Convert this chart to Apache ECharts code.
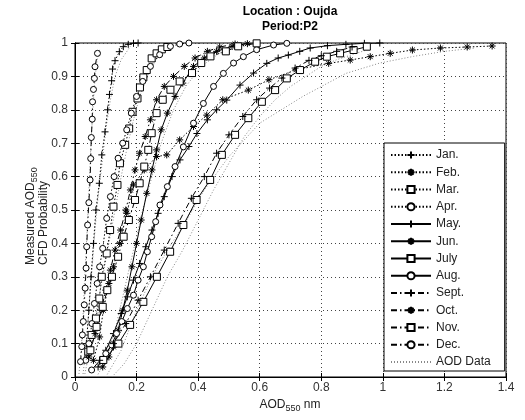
<!DOCTYPE html>
<html>
<head>
<meta charset="utf-8">
<script src="https://cdn.jsdelivr.net/npm/echarts@6/dist/echarts.min.js"></script>
<style>html,body{margin:0;padding:0;background:#fff}#c{width:525px;height:420px}</style>
</head>
<body>
<div id="c"></div>
<script>
// ---- tick labels ----
var xTicks = [0, 0.2, 0.4, 0.6, 0.8, 1, 1.2, 1.4];
var yTicks = [0, 0.1, 0.2, 0.3, 0.4, 0.5, 0.6, 0.7, 0.8, 0.9, 1];

// ---- fitted CDF curves (x = AOD550, p = probability) ----
var janX = [0.030,0.037,0.045,0.052,0.060,0.068,0.079,0.087,0.0975,0.106,0.112,0.119,0.122,0.130,0.144,0.157,0.173,0.190,0.205];
var janP = [0.05,0.10,0.20,0.30,0.40,0.50,0.58,0.665,0.734,0.80,0.846,0.887,0.922,0.947,0.974,0.989,0.996,0.999,1.0];
var febX = [0.06,0.08,0.092,0.11,0.125,0.145,0.168,0.19,0.225,0.265,0.298,0.34,0.385,0.428,0.48,0.563,0.63,0.72,0.824,0.894,0.959,1.024,1.096,1.187,1.274,1.355];
var febP = [0.05,0.12,0.20,0.28,0.33,0.40,0.49,0.575,0.62,0.66,0.665,0.71,0.75,0.784,0.83,0.859,0.89,0.92,0.939,0.949,0.959,0.969,0.979,0.985,0.988,0.991];
var marX = [0.043,0.054,0.068,0.079,0.087,0.103,0.114,0.125,0.138,0.146,0.163,0.176,0.187,0.203,0.211,0.222,0.233,0.249,0.265,0.282,0.30];
var marP = [0.076,0.126,0.175,0.235,0.30,0.37,0.44,0.51,0.575,0.64,0.695,0.744,0.794,0.834,0.867,0.897,0.919,0.954,0.969,0.981,0.988];
var aprX = [0.035,0.045,0.055,0.063,0.072,0.080,0.090,0.103,0.115,0.127,0.140,0.155,0.168,0.183,0.200,0.220,0.245,0.275,0.31,0.34,0.37];
var aprP = [0.05,0.10,0.16,0.22,0.28,0.33,0.385,0.475,0.54,0.60,0.655,0.70,0.74,0.79,0.84,0.885,0.93,0.965,0.99,0.997,1.0];
var mayX = [0.075,0.10,0.125,0.15,0.17,0.19,0.21,0.23,0.25,0.27,0.29,0.315,0.341,0.37,0.396,0.43,0.46,0.493,0.536,0.58,0.623,0.66,0.693,0.73,0.764,0.82,0.88,0.94,0.99];
var mayP = [0.03,0.08,0.13,0.19,0.24,0.29,0.34,0.39,0.44,0.49,0.54,0.60,0.65,0.69,0.729,0.77,0.80,0.829,0.874,0.91,0.939,0.955,0.964,0.975,0.985,0.992,0.996,0.999,1.0];
var junX = [0.09,0.11,0.125,0.14,0.155,0.17,0.185,0.20,0.215,0.233,0.25,0.265,0.28,0.30,0.325,0.35,0.385,0.42,0.46,0.51,0.56];
var junP = [0.03,0.06,0.09,0.14,0.20,0.26,0.33,0.40,0.47,0.55,0.62,0.68,0.74,0.79,0.84,0.88,0.93,0.955,0.975,0.99,0.998];
var julX = [0.092,0.141,0.179,0.222,0.266,0.309,0.352,0.395,0.439,0.477,0.52,0.563,0.607,0.65,0.688,0.731,0.78,0.818,0.861,0.905,0.948];
var julP = [0.051,0.10,0.156,0.225,0.30,0.375,0.455,0.53,0.59,0.665,0.725,0.775,0.824,0.859,0.894,0.919,0.944,0.959,0.969,0.979,0.989];
var augX = [0.054,0.10,0.119,0.135,0.152,0.17,0.19,0.205,0.222,0.235,0.249,0.262,0.276,0.30,0.325,0.352,0.385,0.417,0.45,0.482,0.515,0.547,0.59,0.645,0.688];
var augP = [0.021,0.07,0.096,0.13,0.166,0.205,0.245,0.29,0.33,0.375,0.42,0.465,0.515,0.57,0.63,0.689,0.76,0.819,0.87,0.909,0.94,0.959,0.98,0.994,0.999];
var sepX = [0.08,0.125,0.165,0.205,0.245,0.29,0.335,0.378,0.42,0.46,0.50,0.545,0.59,0.632,0.672,0.715,0.76,0.80,0.85,0.90];
var sepP = [0.05,0.10,0.16,0.23,0.30,0.38,0.46,0.535,0.60,0.67,0.725,0.78,0.83,0.865,0.895,0.925,0.948,0.962,0.975,0.988];
var octX = [0.045,0.065,0.085,0.10,0.115,0.13,0.148,0.165,0.18,0.195,0.21,0.228,0.245,0.265,0.29,0.32,0.355,0.39,0.43,0.47,0.52];
var octP = [0.06,0.13,0.20,0.26,0.32,0.38,0.44,0.50,0.56,0.62,0.67,0.72,0.77,0.83,0.87,0.90,0.93,0.955,0.975,0.988,0.997];
var novX = [0.05,0.07,0.09,0.105,0.12,0.14,0.158,0.175,0.195,0.21,0.225,0.238,0.249,0.265,0.285,0.31,0.34,0.38,0.41,0.44,0.49,0.53,0.59];
var novP = [0.08,0.15,0.21,0.26,0.30,0.36,0.42,0.47,0.53,0.58,0.63,0.68,0.73,0.79,0.83,0.86,0.885,0.91,0.94,0.96,0.975,0.99,0.999];
var decX = [0.018,0.022,0.024,0.027,0.030,0.033,0.036,0.038,0.041,0.045,0.049,0.051,0.053,0.056,0.057,0.060,0.063,0.065,0.073];
var decP = [0.046,0.091,0.126,0.166,0.216,0.266,0.326,0.39,0.455,0.522,0.59,0.654,0.717,0.772,0.824,0.861,0.894,0.929,0.969];

// ---- measured AOD data (empirical CDFs) ----
var obsDecX = [0.012,0.02,0.026,0.03,0.035,0.04,0.046,0.052,0.058,0.064,0.07,0.08];
var obsDecP = [0.0,0.08,0.18,0.27,0.36,0.45,0.58,0.70,0.80,0.88,0.94,0.98];
var obsJanX = [0.025,0.035,0.045,0.055,0.065,0.075,0.088,0.10,0.115,0.13,0.15,0.18];
var obsJanP = [0.0,0.08,0.2,0.32,0.44,0.54,0.64,0.74,0.83,0.9,0.95,0.99];
var obsMarX = [0.03,0.05,0.07,0.09,0.11,0.13,0.15,0.17,0.19,0.21,0.24,0.27,0.31];
var obsMarP = [0.0,0.09,0.2,0.3,0.4,0.5,0.6,0.69,0.77,0.84,0.91,0.96,0.99];
var obsJunX = [0.07,0.1,0.13,0.16,0.19,0.22,0.25,0.28,0.32,0.36,0.41,0.47,0.55];
var obsJunP = [0.0,0.05,0.14,0.26,0.38,0.5,0.6,0.7,0.8,0.87,0.93,0.97,0.99];
var obsJulX = [0.12,0.16,0.2,0.25,0.3,0.35,0.4,0.45,0.5,0.55,0.6,0.65,0.7,0.75,0.8,0.85,0.9,0.95];
var obsJulP = [0.0,0.04,0.1,0.2,0.3,0.38,0.47,0.56,0.64,0.72,0.78,0.83,0.87,0.9,0.93,0.95,0.965,0.98];
var obsFebX = [0.1,0.15,0.2,0.25,0.3,0.35,0.42,0.5,0.6,0.74,0.88,0.99,1.1,1.2,1.3];
var obsFebP = [0.0,0.08,0.2,0.3,0.38,0.45,0.56,0.66,0.76,0.84,0.909,0.94,0.96,0.975,0.985];

// ---- legend labels ----
var monthNames = ['Jan.','Feb.','Mar.','Apr.','May.','Jun.','July','Aug.','Sept.','Oct.','Nov.','Dec.'];
var dataName = 'AOD Data';

function zip(xs, ps){ var o=[]; for(var i=0;i<xs.length;i++) o.push([xs[i], ps[i]]); return o; }

var SYM_PLUS = 'path://M0,5L10,5M5,0L5,10';
var SYM_STAR = 'path://M0,5L10,5M5,0L5,10M1.5,1.5L8.5,8.5M8.5,1.5L1.5,8.5';
var SYM_SQ = 'path://M0,0L10,0L10,10L0,10Z';
var SYM_CI = 'path://M5,0A5,5 0 1,1 5,10A5,5 0 1,1 5,0Z';
var DOT = [1.5, 2];
var DASHDOT = [6, 3, 1.5, 3];

var months = [
  [janX, janP, SYM_PLUS, DOT],
  [febX, febP, SYM_STAR, DOT],
  [marX, marP, SYM_SQ, DOT],
  [aprX, aprP, SYM_CI, DOT],
  [mayX, mayP, SYM_PLUS, 'solid'],
  [junX, junP, SYM_STAR, 'solid'],
  [julX, julP, SYM_SQ, 'solid'],
  [augX, augP, SYM_CI, 'solid'],
  [sepX, sepP, SYM_PLUS, DASHDOT],
  [octX, octP, SYM_STAR, DASHDOT],
  [novX, novP, SYM_SQ, DASHDOT],
  [decX, decP, SYM_CI, DASHDOT]
];
var obs = [[obsDecX,obsDecP],[obsJanX,obsJanP],[obsMarX,obsMarP],[obsJunX,obsJunP],[obsJulX,obsJulP],[obsFebX,obsFebP]];

var series = [];
obs.forEach(function(o){
  series.push({
    name: dataName, type: 'line', data: zip(o[0], o[1]), showSymbol: false, symbol: 'none',
    lineStyle: {color: '#888', width: 1, type: [1, 2]}, itemStyle: {color: '#888'},
    silent: true, animation: false, z: 1
  });
});
months.forEach(function(m, i){
  var s = m[2];
  var sz = (s === SYM_SQ) ? 7 : (s === SYM_CI ? 6 : 7);
  series.push({
    name: monthNames[i], type: 'line', data: zip(m[0], m[1]),
    symbol: s, symbolSize: sz, showAllSymbol: true,
    lineStyle: {color: '#000', width: 1, type: m[3]},
    itemStyle: {color: '#fff', borderColor: '#000', borderWidth: 1},
    animation: false, z: 3
  });
});

var chart = echarts.init(document.getElementById('c'), null, {renderer: 'canvas'});
var FONT = 'Liberation Sans, Arial, sans-serif';
var legendData = monthNames.map(function(n){ return {name: n}; });
legendData.push({name: dataName, itemStyle: {opacity: 0}});

chart.setOption({
  backgroundColor: '#fff',
  animation: false,
  textStyle: {fontFamily: FONT},
  grid: {left: 75, right: 19, top: 43, bottom: 43, show: true, borderColor: '#000', borderWidth: 1, backgroundColor: 'transparent'},
  xAxis: [{
    type: 'value', min: 0, max: 1.4, interval: 0.2,
    axisLine: {show: true, lineStyle: {color: '#000', width: 1}},
    axisTick: {show: true, inside: true, length: 4, lineStyle: {color: '#000'}},
    axisLabel: {color: '#333', fontSize: 12, fontFamily: FONT, margin: 5,
      formatter: function(v){ var t = xTicks.filter(function(k){return Math.abs(k-v)<1e-9;}); return t.length? String(t[0]) : ''; }},
    splitLine: {show: true, lineStyle: {color: '#444', width: 1, type: [1, 3]}}
  },{
    type: 'value', position: 'top', min: 0, max: 1.4, interval: 0.2,
    axisLine: {show: true, lineStyle: {color: '#000'}},
    axisTick: {show: true, inside: true, length: 4, lineStyle: {color: '#000'}},
    axisLabel: {show: false}, splitLine: {show: false}
  }],
  yAxis: [{
    type: 'value', min: 0, max: 1, interval: 0.1,
    axisLine: {show: true, lineStyle: {color: '#000', width: 1}},
    axisTick: {show: true, inside: true, length: 4, lineStyle: {color: '#000'}},
    axisLabel: {color: '#333', fontSize: 12, fontFamily: FONT, margin: 7,
      formatter: function(v){ var t = yTicks.filter(function(k){return Math.abs(k-v)<1e-9;}); return t.length? String(t[0]) : ''; }},
    splitLine: {show: true, lineStyle: {color: '#444', width: 1, type: [1, 3]}}
  },{
    type: 'value', position: 'right', min: 0, max: 1, interval: 0.1,
    axisLine: {show: true, lineStyle: {color: '#000'}},
    axisTick: {show: true, inside: true, length: 4, lineStyle: {color: '#000'}},
    axisLabel: {show: false}, splitLine: {show: false}
  }],
  legend: {
    orient: 'vertical', left: 384, top: 143,
    data: legendData,
    itemWidth: 40, itemHeight: 9, itemGap: 5.25,
    padding: [6, 14, 3, 6],
    backgroundColor: '#fff', borderColor: '#000', borderWidth: 1,
    textStyle: {color: '#222', fontSize: 12, fontFamily: FONT},
    inactiveColor: '#ccc'
  },
  graphic: [
    {type: 'text', x: 290, y: 6, style: {text: 'Location : Oujda', font: 'bold 12px ' + FONT, fill: '#000', align: 'center', verticalAlign: 'top'}},
    {type: 'text', x: 290, y: 21, style: {text: 'Period:P2', font: 'bold 12px ' + FONT, fill: '#000', align: 'center', verticalAlign: 'top'}},
    {type: 'text', x: 31, y: 265, rotation: Math.PI / 2,
      style: {text: '{n|Measured AOD}{s|550}', rich: {n: {fontSize: 12, fontFamily: FONT, fill: '#222'}, s: {fontSize: 9, fontFamily: FONT, fill: '#222', padding: [8, 0, 0, 0]}}, align: 'left', verticalAlign: 'middle'}},
    {type: 'text', x: 44, y: 265, rotation: Math.PI / 2,
      style: {text: 'CFD Probability', font: '12px ' + FONT, fill: '#222', align: 'left', verticalAlign: 'middle'}},
    {type: 'text', x: 290, y: 405,
      style: {text: '{n|AOD}{s|550}{n| nm}', rich: {n: {fontSize: 12, fontFamily: FONT, fill: '#222'}, s: {fontSize: 9, fontFamily: FONT, fill: '#222', padding: [8, 0, 0, 0]}}, align: 'center', verticalAlign: 'middle'}}
  ],
  series: series
});
</script>
</body>
</html>
